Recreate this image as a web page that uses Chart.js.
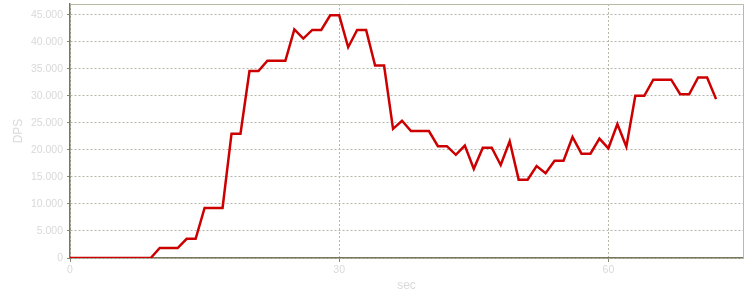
<!DOCTYPE html>
<html>
<head>
<meta charset="utf-8">
<script src="https://cdn.jsdelivr.net/npm/chart.js@4/dist/chart.umd.min.js"></script>
<style>
html,body{margin:0;padding:0;background:#fff;}
#wrap{width:750px;height:300px;position:relative;}
</style>
</head>
<body>
<div id="wrap"><canvas id="c" width="750" height="300"></canvas></div>
<script>
const seconds = [0,1,2,3,4,5,6,7,8,9,10,11,12,13,14,15,16,17,18,19,20,21,22,23,24,25,26,27,28,29,30,31,32,33,34,35,36,37,38,39,40,41,42,43,44,45,46,47,48,49,50,51,52,53,54,55,56,57,58,59,60,61,62,63,64,65,66,67,68,69,70,71,72];
const dps = [0,0,0,0,0,0,0,0,0,0,1850,1850,1850,3550,3550,9250,9250,9250,23000,23000,34600,34600,36500,36500,36500,42300,40600,42200,42200,44900,44900,39000,42200,42200,35600,35600,23900,25400,23500,23500,23500,20700,20700,19100,20800,16500,20400,20400,17200,21600,14500,14500,17000,15700,18000,18000,22400,19300,19300,22100,20300,24800,20600,30000,30000,33000,33000,33000,30300,30300,33400,33400,29400];
const xTicks = [0,30,60];
const yTicks = [0,5000,10000,15000,20000,25000,30000,35000,40000,45000];
const xTitle = 'sec';
const yTitle = 'DPS';

const fmt = v => String(v).replace(/\B(?=(\d{3})+(?!\d))/g, '.');

const frame = {
  id: 'frame',
  afterDatasetsDraw(chart) {
    const a = chart.chartArea, ctx = chart.ctx;
    ctx.save();
    ctx.strokeStyle = '#b9b9a6';
    ctx.lineWidth = 1;
    ctx.beginPath();
    ctx.moveTo(a.left, a.top + 0.5);
    ctx.lineTo(a.right + 0.5, a.top + 0.5);
    ctx.lineTo(a.right + 0.5, a.bottom);
    ctx.stroke();
    ctx.restore();
  }
};

new Chart(document.getElementById('c'), {
  type: 'line',
  data: {
    datasets: [{
      data: seconds.map((s, i) => ({x: s, y: dps[i]})),
      borderColor: '#cc0000',
      borderWidth: 2.5,
      pointRadius: 0,
      tension: 0,
      fill: false
    }]
  },
  options: {
    responsive: false,
    animation: false,
    layout: {padding: {top: 4, right: 7, left: 0, bottom: 0}},
    plugins: {legend: {display: false}, tooltip: {enabled: false}},
    scales: {
      x: {
        type: 'linear',
        min: 0, max: 75,
        afterBuildTicks: s => { s.ticks = xTicks.map(v => ({value: v})); },
        afterFit: s => { s.height = 42; s.paddingLeft = 0; s.paddingRight = 0; },
        ticks: {color: '#d9d9d9', font: {family: 'Liberation Sans, Arial, sans-serif', size: 10.5}, padding: 2, maxRotation: 0},
        grid: {color: '#b5b5a8', tickColor: '#8a8a74', tickLength: 4, lineWidth: 1},
        border: {color: '#77775d', width: 1.5, dash: [2, 2]},
        title: {display: true, text: xTitle, color: '#d9d9d9', font: {family: 'Liberation Sans, Arial, sans-serif', size: 12}, padding: {top: 0, bottom: 7}}
      },
      y: {
        min: 0, max: 47000,
        afterBuildTicks: s => { s.ticks = yTicks.map(v => ({value: v})); },
        afterFit: s => { s.width = 70; s.paddingTop = 0; s.paddingBottom = 0; },
        ticks: {color: '#d9d9d9', font: {family: 'Liberation Sans, Arial, sans-serif', size: 10.5}, padding: 4, callback: v => fmt(v)},
        grid: {color: '#b5b5a8', tickColor: '#8a8a74', tickLength: 3, lineWidth: 1},
        border: {color: '#77775d', width: 1.5, dash: [2, 2]},
        title: {display: true, text: yTitle, color: '#d9d9d9', font: {family: 'Liberation Sans, Arial, sans-serif', size: 12}, padding: {top: 11, bottom: 0}}
      }
    }
  },
  plugins: [frame]
});
</script>
</body>
</html>
